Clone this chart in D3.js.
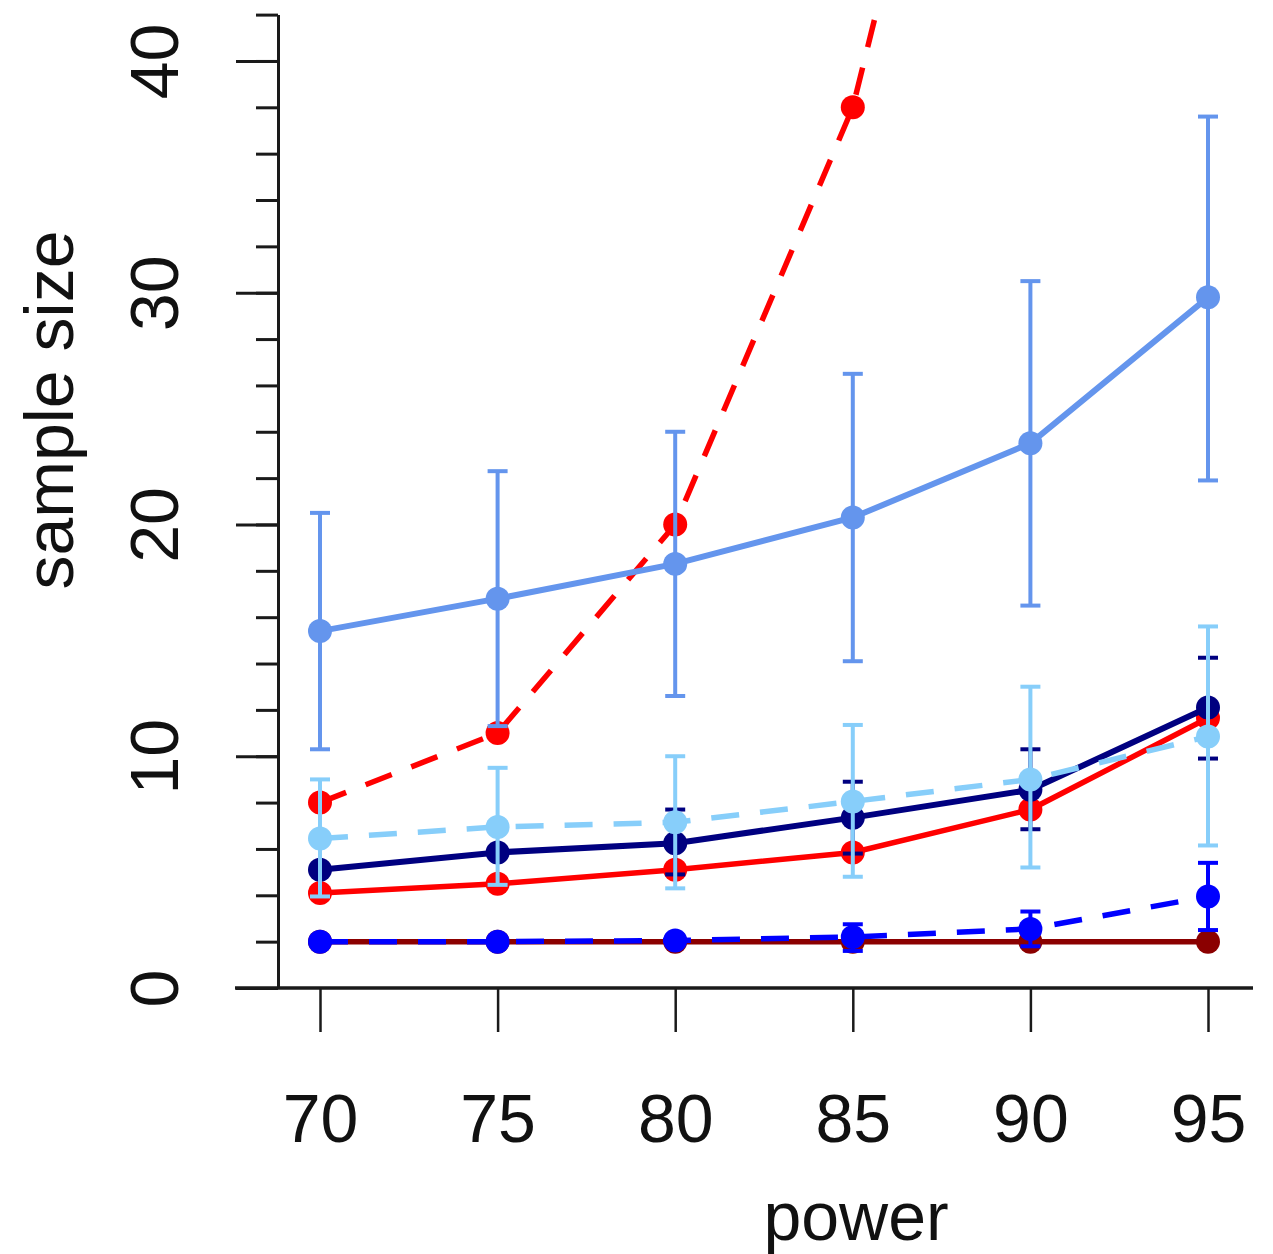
<!DOCTYPE html>
<html>
<script src="https://d3js.org/d3.v7.min.js"></script>
<head>
  <title>sample size vs power</title>
  <style>
    body { margin: 0; background: #fff; }
    text { font-family: "Liberation Sans", Arial, sans-serif; fill: #111; }
  </style>
</head>
<body>
  <div id="canvas"></div>

  <script>
    // power levels (x axis)
    var powers = [70, 75, 80, 85, 90, 95];
    var yMajor = [0, 10, 20, 30, 40];

    // mean sample size per series, with error bar ends (null = no bar)
    var cornflowerMean = [15.4, 16.8, 18.3, 20.3, 23.5, 29.8];
    var cornflowerHi   = [20.5, 22.3, 24.0, 26.5, 30.5, 37.6];
    var cornflowerLo   = [10.3, 11.3, 12.6, 14.1, 16.5, 21.9];

    var redDashed = [8, 11, 20, 38, 69, null];

    var skyMean = [6.45, 6.95, 7.15, 8.05, 9.0, 10.85];
    var skyHi   = [9.0, 9.5, 10.0, 11.35, 13.0, 15.6];
    var skyLo   = [3.95, 4.45, 4.3, 4.8, 5.2, 6.15];

    var navyMean = [5.1, 5.85, 6.25, 7.35, 8.55, 12.1];
    var navyHi   = [5.1, 5.85, 7.7, 8.9, 10.3, 14.25];
    var navyLo   = [5.1, 5.85, 4.9, 5.8, 6.85, 9.9];

    var redSolid = [4.1, 4.5, 5.1, 5.85, 7.7, 11.65];

    var blueMean = [2.0, 2.0, 2.05, 2.2, 2.55, 3.95];
    var blueHi   = [2.0, 2.0, 2.15, 2.75, 3.3, 5.4];
    var blueLo   = [2.0, 2.0, 1.95, 1.6, 1.8, 2.5];

    var darkred = [2, 2, 2, 2, 2, 2];

    // canvas
    var W = 1273, H = 1254;
    var svg = d3.select('#canvas')
      .append('svg')
        .attr('width', W)
        .attr('height', H);

    var x = d3.scaleLinear().domain([70, 95]).range([320, 1208]);
    var y = d3.scaleLinear().domain([0, 42]).range([988, 14.6]);
    var axisX = 278;

    svg.append("clipPath").attr("id", "plotclip")
      .append("rect")
        .attr("x", 236).attr("y", 11)
        .attr("width", 1253 - 236).attr("height", 1000);

    // y axis: minor ticks every 2, major with labels every 10
    svg.append("g")
      .attr("transform", `translate(${axisX},0)`)
      .call(d3.axisLeft(y).tickValues(d3.range(0, 43, 2)).tickSize(22).tickSizeOuter(0).tickFormat(""));
    var yAx = svg.append("g")
      .attr("transform", `translate(${axisX},0)`)
      .call(d3.axisLeft(y).tickValues(yMajor).tickSize(42).tickSizeOuter(0));
    yAx.selectAll("text")
      .attr("x", 0).attr("y", 0).attr("dy", 0)
      .attr("text-anchor", "middle")
      .attr("transform", "translate(-100,0) rotate(-90)")
      .style("font-size", "68px");
    svg.selectAll(".domain, .tick line")
      .attr("stroke", "#1a1a1a").attr("stroke-width", 3);

    // x axis
    var xAx = svg.append("g")
      .attr("transform", `translate(0,${y(0)})`)
      .call(d3.axisBottom(x).tickValues(powers).tickSize(44).tickSizeOuter(0));
    xAx.select(".domain").remove();
    xAx.selectAll("line").attr("stroke", "#1a1a1a").attr("stroke-width", 2.5);
    xAx.selectAll("text")
      .attr("y", 154).attr("dy", 0)
      .style("font-size", "68px");
    svg.append("line")
      .attr("x1", 235).attr("x2", 1253)
      .attr("y1", y(0)).attr("y2", y(0))
      .attr("stroke", "#1a1a1a").attr("stroke-width", 3.5);

    // axis titles
    svg.append("text")
      .text("power")
        .attr("text-anchor", "middle")
        .attr("x", 856)
        .attr("y", 1240)
        .style("font-size", "68px");
    svg.append("text")
      .text("sample size")
        .attr("text-anchor", "middle")
        .attr("transform", "translate(73,410) rotate(-90)")
        .style("font-size", "68px");

    var plot = svg.append("g").attr("clip-path", "url(#plotclip)");

    function drawSeries(color, mean, hi, lo, dashed, lw) {
      var pts = powers.map(function(p, i) {
        return {p: p, v: mean[i], hi: hi ? hi[i] : null, lo: lo ? lo[i] : null};
      });
      var g = plot.append("g");
      if (hi) {
        var eb = pts.filter(function(d) { return d.hi != null && d.hi !== d.lo; });
        g.selectAll(".bar").data(eb).enter().append("line")
          .attr("x1", function(d) { return x(d.p); }).attr("x2", function(d) { return x(d.p); })
          .attr("y1", function(d) { return y(d.hi); }).attr("y2", function(d) { return y(d.lo); })
          .attr("stroke", color).attr("stroke-width", 4);
        ["hi", "lo"].forEach(function(k) {
          g.selectAll(".cap" + k).data(eb).enter().append("line")
            .attr("x1", function(d) { return x(d.p) - 10; }).attr("x2", function(d) { return x(d.p) + 10; })
            .attr("y1", function(d) { return y(d[k]); }).attr("y2", function(d) { return y(d[k]); })
            .attr("stroke", color).attr("stroke-width", 4);
        });
      }
      var line = d3.line()
        .defined(function(d) { return d.v != null; })
        .x(function(d) { return x(d.p); })
        .y(function(d) { return y(d.v); });
      g.append("path")
        .datum(pts)
        .attr("d", line)
        .attr("fill", "none")
        .attr("stroke", color)
        .attr("stroke-width", lw)
        .attr("stroke-dasharray", dashed ? "28,21" : null);
      g.selectAll("circle")
        .data(pts.filter(function(d) { return d.v != null; }))
        .enter()
        .append("circle")
          .attr("cx", function(d) { return x(d.p); })
          .attr("cy", function(d) { return y(d.v); })
          .attr("r", 12)
          .style("fill", color);
    }

    drawSeries("#8B0000", darkred, null, null, false, 5.5);
    drawSeries("#FF0000", redSolid, null, null, false, 5.5);
    drawSeries("#FF0000", redDashed, null, null, true, 5.5);
    drawSeries("#000080", navyMean, navyHi, navyLo, false, 6);
    drawSeries("#87CEFA", skyMean, skyHi, skyLo, true, 5.5);
    drawSeries("#6495ED", cornflowerMean, cornflowerHi, cornflowerLo, false, 6);
    drawSeries("#0000FF", blueMean, blueHi, blueLo, true, 5.5);
  </script>
</body>
</html>
